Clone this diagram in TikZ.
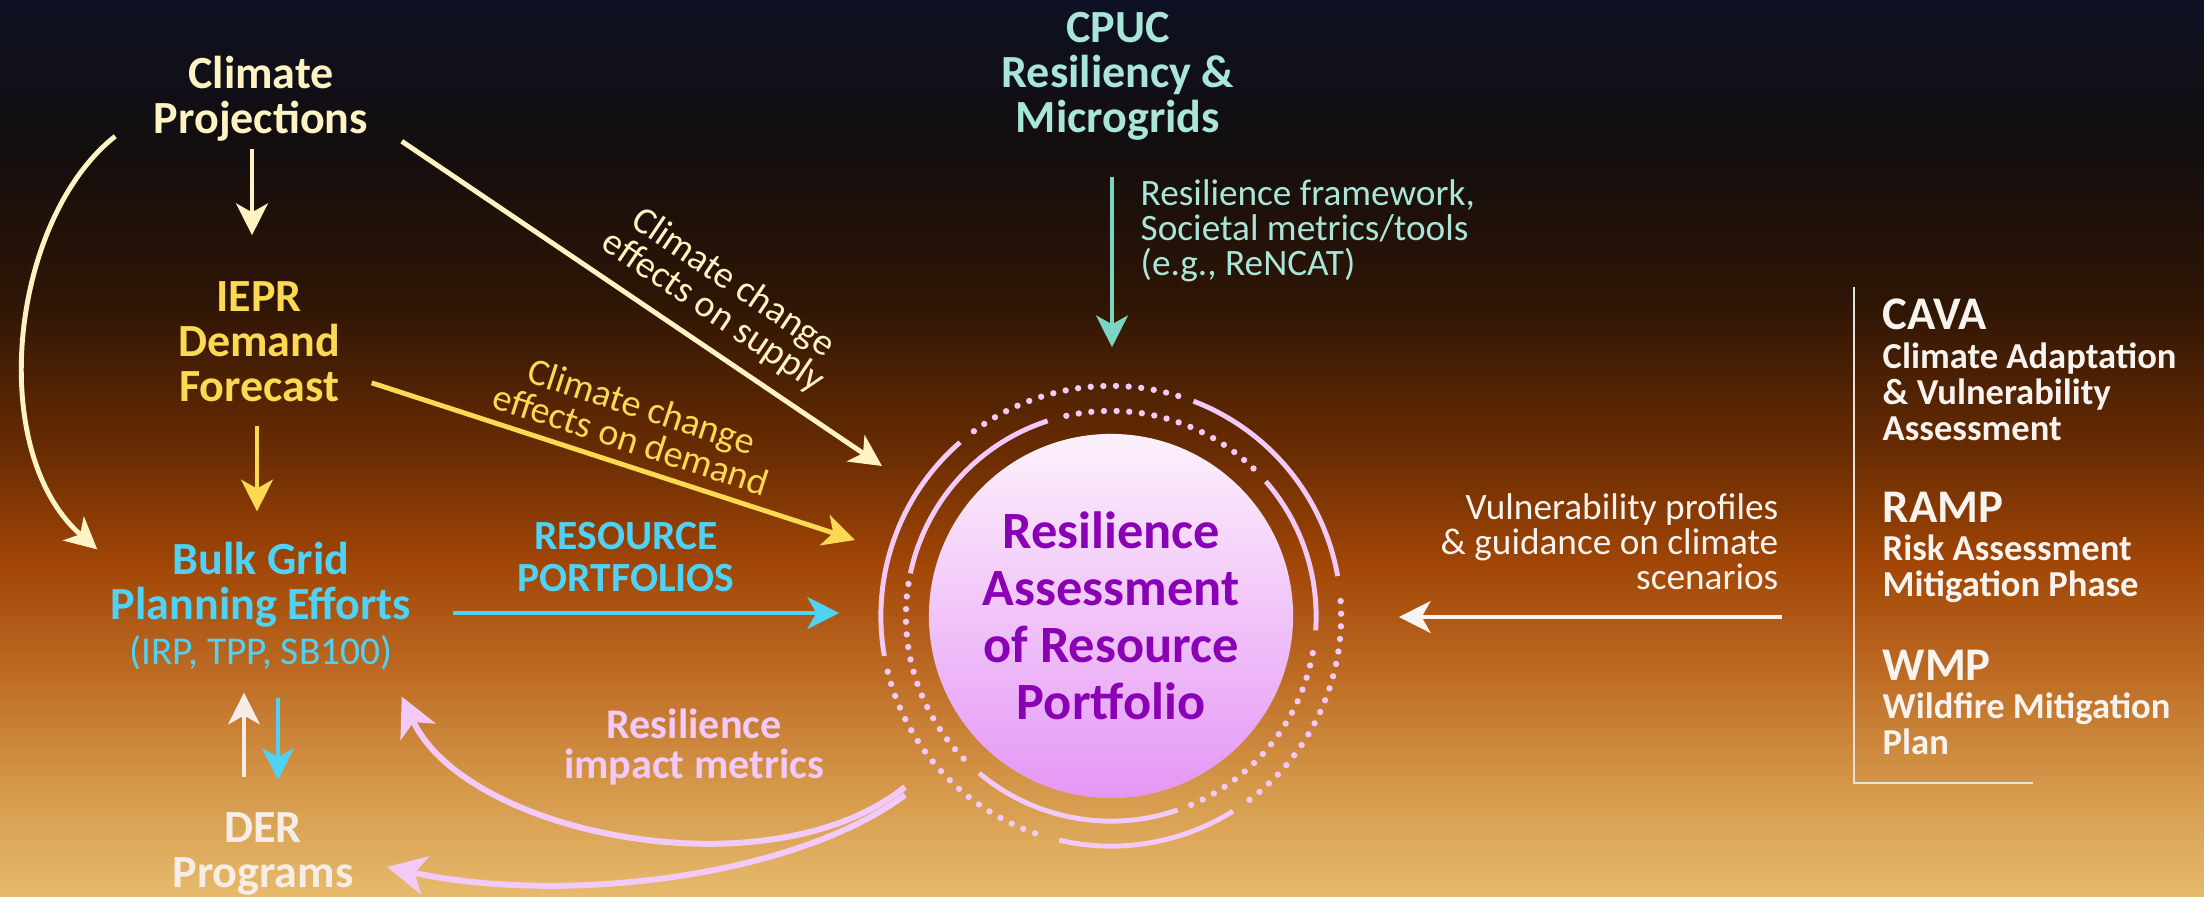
\documentclass[tikz,border=0pt]{standalone}
\usepackage{fontspec}
\setmainfont{Carlito}
\usepackage{xcolor}
\usepackage{tikz}
\usetikzlibrary{positioning,arrows.meta,calc}
\definecolor{projclr}{HTML}{FFF3C4}
\definecolor{ieprclr}{HTML}{FBD953}
\definecolor{bulkclr}{HTML}{4FD2F4}
\definecolor{derclr}{HTML}{F6EEE6}
\definecolor{cpucclr}{HTML}{A9E5D9}
\definecolor{tealclr}{HTML}{7CD4C2}
\definecolor{pinkclr}{HTML}{F2C9F7}
\definecolor{purpclr}{HTML}{8A00B4}
\definecolor{circtop}{HTML}{FCF1FC}
\definecolor{circbot}{HTML}{E597F5}
\definecolor{wclr}{HTML}{F7F3EF}
\definecolor{bgA}{HTML}{0E1123}
\definecolor{bgB}{HTML}{130E0E}
\definecolor{bgC}{HTML}{2E1505}
\definecolor{bgD}{HTML}{692C03}
\definecolor{bgE}{HTML}{A04506}
\definecolor{bgF}{HTML}{BF6E26}
\definecolor{bgG}{HTML}{D49648}
\definecolor{bgH}{HTML}{E6BA6C}
\tikzset{
    topic/.style={align=center,inner sep=0pt,
                  font=\fontsize{13.1}{12.8}\selectfont\bfseries},
    note/.style={inner sep=0pt,font=\fontsize{10.6}{10}\selectfont},
    head/.style={anchor=base west,inner sep=0pt,text=wclr,
                 font=\fontsize{13.3}{13}\selectfont\bfseries},
    sub/.style={anchor=north west,align=left,inner sep=0pt,text=wclr,
                font=\fontsize{10.4}{10.2}\selectfont\bfseries},
    edge/.style={-{Stealth[length=9pt,width=9pt,inset=2.5pt]},line width=1.4pt},
    back/.style={-{Stealth[length=11pt,width=11pt,inset=3pt]},line width=1.7pt,draw=pinkclr},
    ring/.style={draw=pinkclr,line width=1.4pt},
    dots/.style={draw=pinkclr,line width=1.8pt,line cap=round,dash pattern=on 0pt off 3.6pt},
}
\begin{document}
\begin{tikzpicture}[x=0.01cm,y=0.01cm]
\useasboundingbox (0,0) rectangle (2204,-896);
% background
\shade[top color=bgA,bottom color=bgB] (0,0) rectangle (2204,-152);
\shade[top color=bgB,bottom color=bgC] (0,-151) rectangle (2204,-302);
\shade[top color=bgC,bottom color=bgD] (0,-301) rectangle (2204,-452);
\shade[top color=bgD,bottom color=bgE] (0,-451) rectangle (2204,-562);
\shade[top color=bgE,bottom color=bgF] (0,-561) rectangle (2204,-682);
\shade[top color=bgF,bottom color=bgG] (0,-681) rectangle (2204,-782);
\shade[top color=bgG,bottom color=bgH] (0,-781) rectangle (2204,-896);

% left column
\node[topic,text=projclr] (Cp)  at (261,-99)  {Climate\\Projections};
\node[topic,text=ieprclr] (Ie)  at (259,-342) {IEPR\\Demand\\Forecast};
\node[topic,text=bulkclr] (Bg)  at (261,-606) {Bulk Grid\\Planning Efforts\\
      {\fontsize{11.2}{12.6}\selectfont\mdseries (IRP, TPP, SB100)}};
\node[topic,text=derclr]  (Der) at (263,-854) {DER\\Programs};

% centre
\node[circle,minimum size=3.64cm,inner sep=0pt,align=center,
      top color=circtop,bottom color=circbot,
      text=purpclr,font=\fontsize{14.9}{16.2}\selectfont\bfseries]
      (Ra) at (1111,-616) {Resilience\\Assessment\\of Resource\\Portfolio};
\foreach \a/\b in {108/168,230/289,-4/41}
  \draw[ring] (Ra.center) ++(\a:2.05cm) arc[start angle=\a,end angle=\b,radius=2.05cm];
\foreach \a/\b in {171/227,293/351,46/105}
  \draw[dots] (Ra.center) ++(\a:2.05cm) arc[start angle=\a,end angle=\b,radius=2.05cm];
\foreach \a/\b in {131/190,257/302,10/69}
  \draw[ring] (Ra.center) ++(\a:2.3cm) arc[start angle=\a,end angle=\b,radius=2.3cm];
\foreach \a/\b in {194/252,307/365,73/127}
  \draw[dots] (Ra.center) ++(\a:2.3cm) arc[start angle=\a,end angle=\b,radius=2.3cm];

% top
\node[topic,text=cpucclr] (Cu) at (1118,-76) {CPUC\\Resiliency \&\\Microgrids};
\node[note,text=cpucclr,anchor=west,align=left] (Cul) at (1140,-231)
      {Resilience framework,\\Societal metrics/tools\\(e.g., ReNCAT)};

% labels
\node[topic,text=bulkclr,font=\fontsize{11.8}{11.8}\selectfont\bfseries] (Rp) at (626,-557)
      {RESOURCE\\PORTFOLIOS};
\node[topic,text=pinkclr,font=\fontsize{12}{11.4}\selectfont\bfseries] (Rm) at (694,-747)
      {Resilience\\impact metrics};
\node[note,text=wclr,anchor=east,align=right] (Vu) at (1779,-542)
      {Vulnerability profiles\\\& guidance on climate\\scenarios};

% right column
\coordinate (Rt) at (1854,-287);
\coordinate (Rb) at (1854,-783);
\coordinate (Re) at (2033,-783);
\draw[wclr!85!gray,line width=0.6pt] (Rt) -- (Rb) -- (Re);
\node[head] (Cv) at (1882,-329) {CAVA};
\node[sub]  (Cvd) at (1882,-342) {Climate Adaptation\\\& Vulnerability\\Assessment};
\node[head] (Rmp) at (1882,-522) {RAMP};
\node[sub]  (Rmpd) at (1882,-534) {Risk Assessment\\Mitigation Phase};
\node[head] (Wm) at (1882,-680) {WMP};
\node[sub]  (Wmd) at (1882,-692) {Wildfire Mitigation\\Plan};
\coordinate (Vs) at (1782,-617);

% arrows
\draw[edge,draw=projclr] ($(Cp.south)+(-9,-7)$) -- ($(Ie.north)+(-7,46)$);
\draw[edge,draw=ieprclr] ($(Ie.south)+(-2,-23)$) -- ($(Bg.north)+(-4,30)$);
\draw[edge,draw=projclr] ($(Cp.south west)+(-38,6)$)
      .. controls +(-105,-83) and +(-112,98) .. ($(Bg.north west)+(-13,-8)$);
\draw[edge,draw=projclr] ($(Cp.south east)+(33,1)$) --
      node[sloped,above=4pt,pos=0.61,note,align=center,text=projclr,
           font=\fontsize{10.8}{10}\selectfont] {Climate change\\effects on supply}
      ($(Ra.center)+(-229,150)$);
\draw[edge,draw=ieprclr] ($(Ie.south east)+(31,20)$) --
      node[sloped,above=3pt,pos=0.52,note,align=center,text=ieprclr,
           font=\fontsize{10.8}{10}\selectfont] {Climate change\\effects on demand}
      ($(Ra.center)+(-256,76)$);
\draw[edge,draw=bulkclr] ($(Bg.east)+(41,-7)$) -- ($(Ra.west)+(-89,3)$);
\draw[edge,draw=tealclr] ($(Cu.south)+(-6,-36)$) -- ($(Ra.north)+(1,86)$);
\draw[edge,draw=wclr] (Vs) -- ($(Ra.east)+(105,-1)$);
\draw[edge,draw=derclr] ($(Der.north)+(-19,35)$) -- ($(Bg.south)+(-17,-22)$);
\draw[edge,draw=bulkclr] ($(Bg.south)+(17,-27)$) -- ($(Der.north)+(15,32)$);
\draw[back] ($(Ra.center)+(-206,-171)$)
      .. controls +(-135,-108) and +(65,-139) .. ($(Bg.south east)+(-10,-26)$);
\draw[back] ($(Ra.center)+(-206,-179)$)
      .. controls +(-115,-85) and +(170,-37) .. ($(Der.east)+(33,-13)$);
\end{tikzpicture}
\end{document}
